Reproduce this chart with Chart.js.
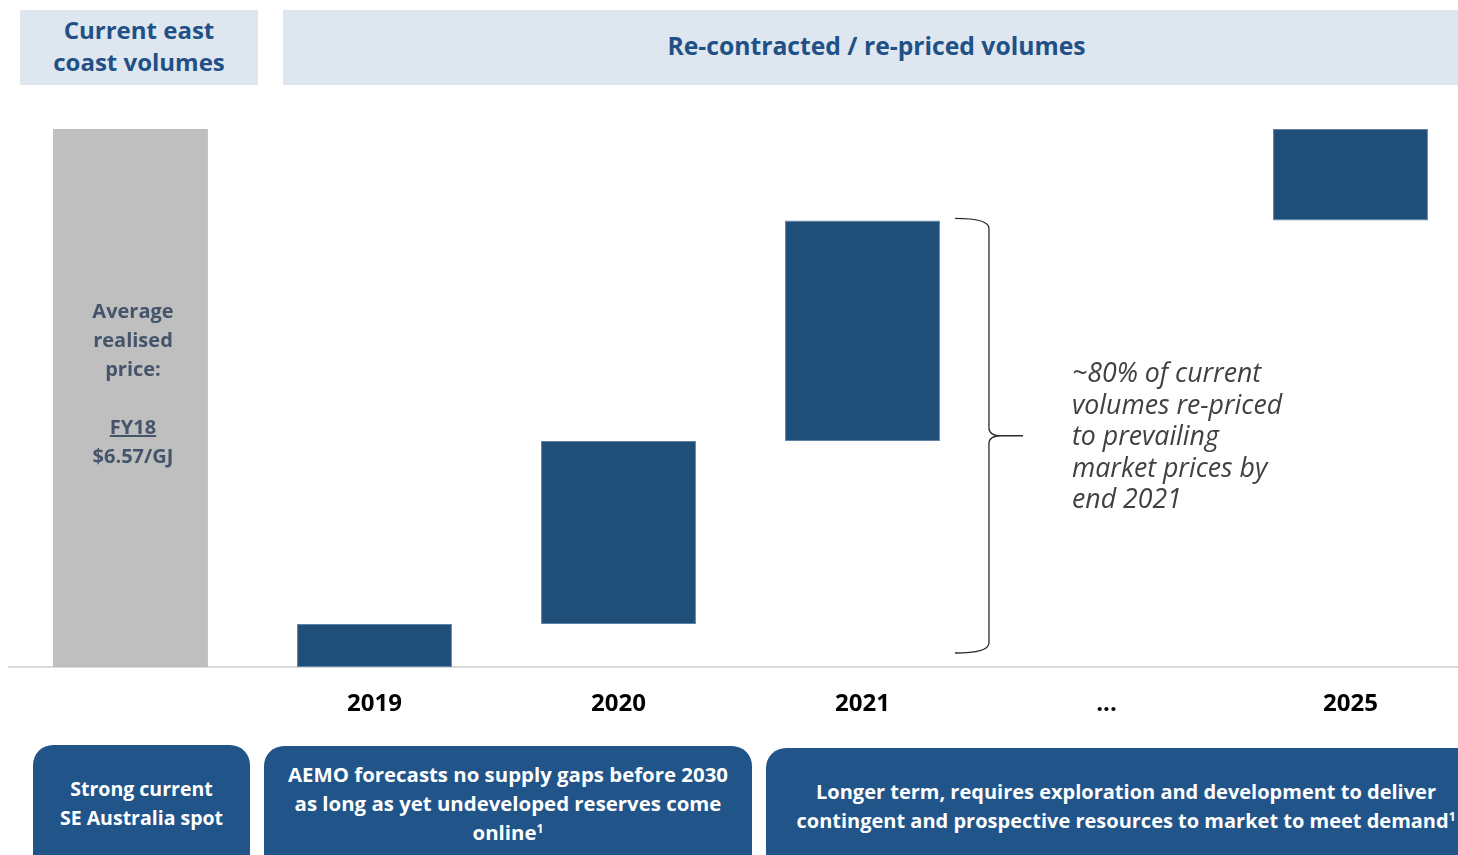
<!DOCTYPE html>
<html>
<head>
<meta charset="utf-8">
<script src="https://cdn.jsdelivr.net/npm/chart.js@4/dist/chart.umd.min.js"></script>
<style>
  html, body { margin: 0; padding: 0; background: #ffffff; width: 1458px; height: 855px; overflow: hidden; }
  #wrap { position: relative; width: 1458px; height: 855px; overflow: hidden; font-family: "Open Sans", Lato, sans-serif; }
  #chartBox { position: absolute; left: 0; top: 0; width: 1481px; height: 855px; }
  .hdr { position: absolute; background: #dee6ef; color: #1f5086; font-weight: bold; font-size: 24px; line-height: 32px;
         display: flex; align-items: center; justify-content: center; text-align: center; }
  .foot { position: absolute; background: #21558a; color: #ffffff; font-weight: bold; font-size: 19.5px; line-height: 29px;
          border-radius: 20px; display: flex; align-items: center; justify-content: center; text-align: center; box-sizing: border-box; }
  .foot sup { font-size: 12px; line-height: 0; vertical-align: 7px; }
  #barNote { position: absolute; left: 53px; width: 160px; top: 296px; color: #44546a; font-weight: bold; font-size: 20px;
             line-height: 29px; text-align: center; }
  #annot { position: absolute; left: 1072px; top: 356px; color: #404040; font-style: italic; font-size: 26.7px; line-height: 31.5px; }
</style>
</head>
<body>
<div id="wrap">
  <div id="chartBox"><canvas id="c" width="1481" height="855"></canvas></div>
  <div class="hdr" style="left:20px;top:10px;width:238px;height:75px;padding-bottom:4px;box-sizing:border-box;"><div>Current east<br>coast volumes</div></div>
  <div class="hdr" style="left:283px;top:10px;width:1175px;height:75px;padding:0 0 4px 12px;box-sizing:border-box;font-size:24.7px;"><div>Re-contracted / re-priced volumes</div></div>
  <div id="barNote">Average<br>realised<br>price:<br><br><span style="text-decoration:underline;">FY18</span><br>$6.57/GJ</div>
  <div id="annot">~80% of current<br>volumes re-priced<br>to prevailing<br>market prices by<br>end 2021</div>
  <div class="foot" style="left:33px;top:745px;width:217px;height:140px;padding-bottom:25px;"><div>Strong current<br>SE Australia spot</div></div>
  <div class="foot" style="left:264px;top:746px;width:488px;height:140px;padding-bottom:26px;font-size:20.4px;"><div>AEMO forecasts no supply gaps before 2030<br>as long as yet undeveloped reserves come<br>online<sup>1</sup></div></div>
  <div class="foot" style="left:766px;top:748px;width:720px;height:140px;padding:0 0 24px 0;font-size:20px;"><div>Longer term, requires exploration and development to deliver<br>contingent and prospective resources to market to meet demand<sup>1</sup></div></div>
</div>
<script>
// ---- Data ----
const categories = ["", "2019", "2020", "2021", "...", "2025"];
const barStart   = [0, 0, 8, 42, null, 83];
const barEnd     = [100, 8, 42, 83, null, 100];
const barColors  = ["#bfbfbf", "#1f4e79", "#1f4e79", "#1f4e79", "#1f4e79", "#1f4e79"];
const borderCols = ["#bfbfbf", "#5f82a9", "#5f82a9", "#5f82a9", "#5f82a9", "#5f82a9"];
// the brace spans the volumes re-priced by end 2021
const braceRange = [0, 83];
const braceCategory = "2021";

const floating = categories.map((c, i) => (barStart[i] === null ? null : [barStart[i], barEnd[i]]));

const bracePlugin = {
  id: 'brace',
  afterDatasetsDraw(chart) {
    const ctx = chart.ctx;
    const ys = chart.scales.y;
    const idx = categories.indexOf(braceCategory);
    const meta = chart.getDatasetMeta(0).data[idx];
    const right = meta.x + meta.width / 2;
    const x0 = right + 15;
    const xv = right + 49;
    const xt = right + 83;
    const yTop = ys.getPixelForValue(braceRange[1]) - 2;
    const yBot = ys.getPixelForValue(braceRange[0]) - 14;
    const yMid = (yTop + yBot) / 2;
    ctx.save();
    ctx.strokeStyle = '#2b2b2b';
    ctx.lineWidth = 1.3;
    ctx.beginPath();
    ctx.moveTo(x0, yTop);
    ctx.quadraticCurveTo(xv, yTop, xv, yTop + 10);
    ctx.lineTo(xv, yMid - 8);
    ctx.quadraticCurveTo(xv, yMid, xv + 12, yMid);
    ctx.lineTo(xt, yMid);
    ctx.moveTo(xv + 12, yMid);
    ctx.quadraticCurveTo(xv, yMid, xv, yMid + 8);
    ctx.lineTo(xv, yBot - 10);
    ctx.quadraticCurveTo(xv, yBot, x0, yBot);
    ctx.stroke();
    ctx.restore();
  }
};

new Chart(document.getElementById('c'), {
  type: 'bar',
  data: {
    labels: categories,
    datasets: [{
      data: floating,
      backgroundColor: barColors,
      borderColor: borderCols,
      borderWidth: 1,
      borderSkipped: false,
      barPercentage: 0.635,
      categoryPercentage: 1.0
    }]
  },
  options: {
    responsive: false,
    animation: false,
    layout: { padding: { left: 8.5, right: 8.5, top: 129, bottom: 0 } },
    plugins: { legend: { display: false }, tooltip: { enabled: false } },
    scales: {
      x: {
        grid: { display: false, drawTicks: false },
        border: { display: true, color: '#d9d9d9', width: 2 },
        ticks: { color: '#000000', font: { family: '"Open Sans"', weight: 'bold', size: 24 }, padding: 23 },
        afterFit(scale) { scale.height = 188; }
      },
      y: { display: false, min: 0, max: 100 }
    }
  },
  plugins: [bracePlugin]
});
</script>
</body>
</html>
